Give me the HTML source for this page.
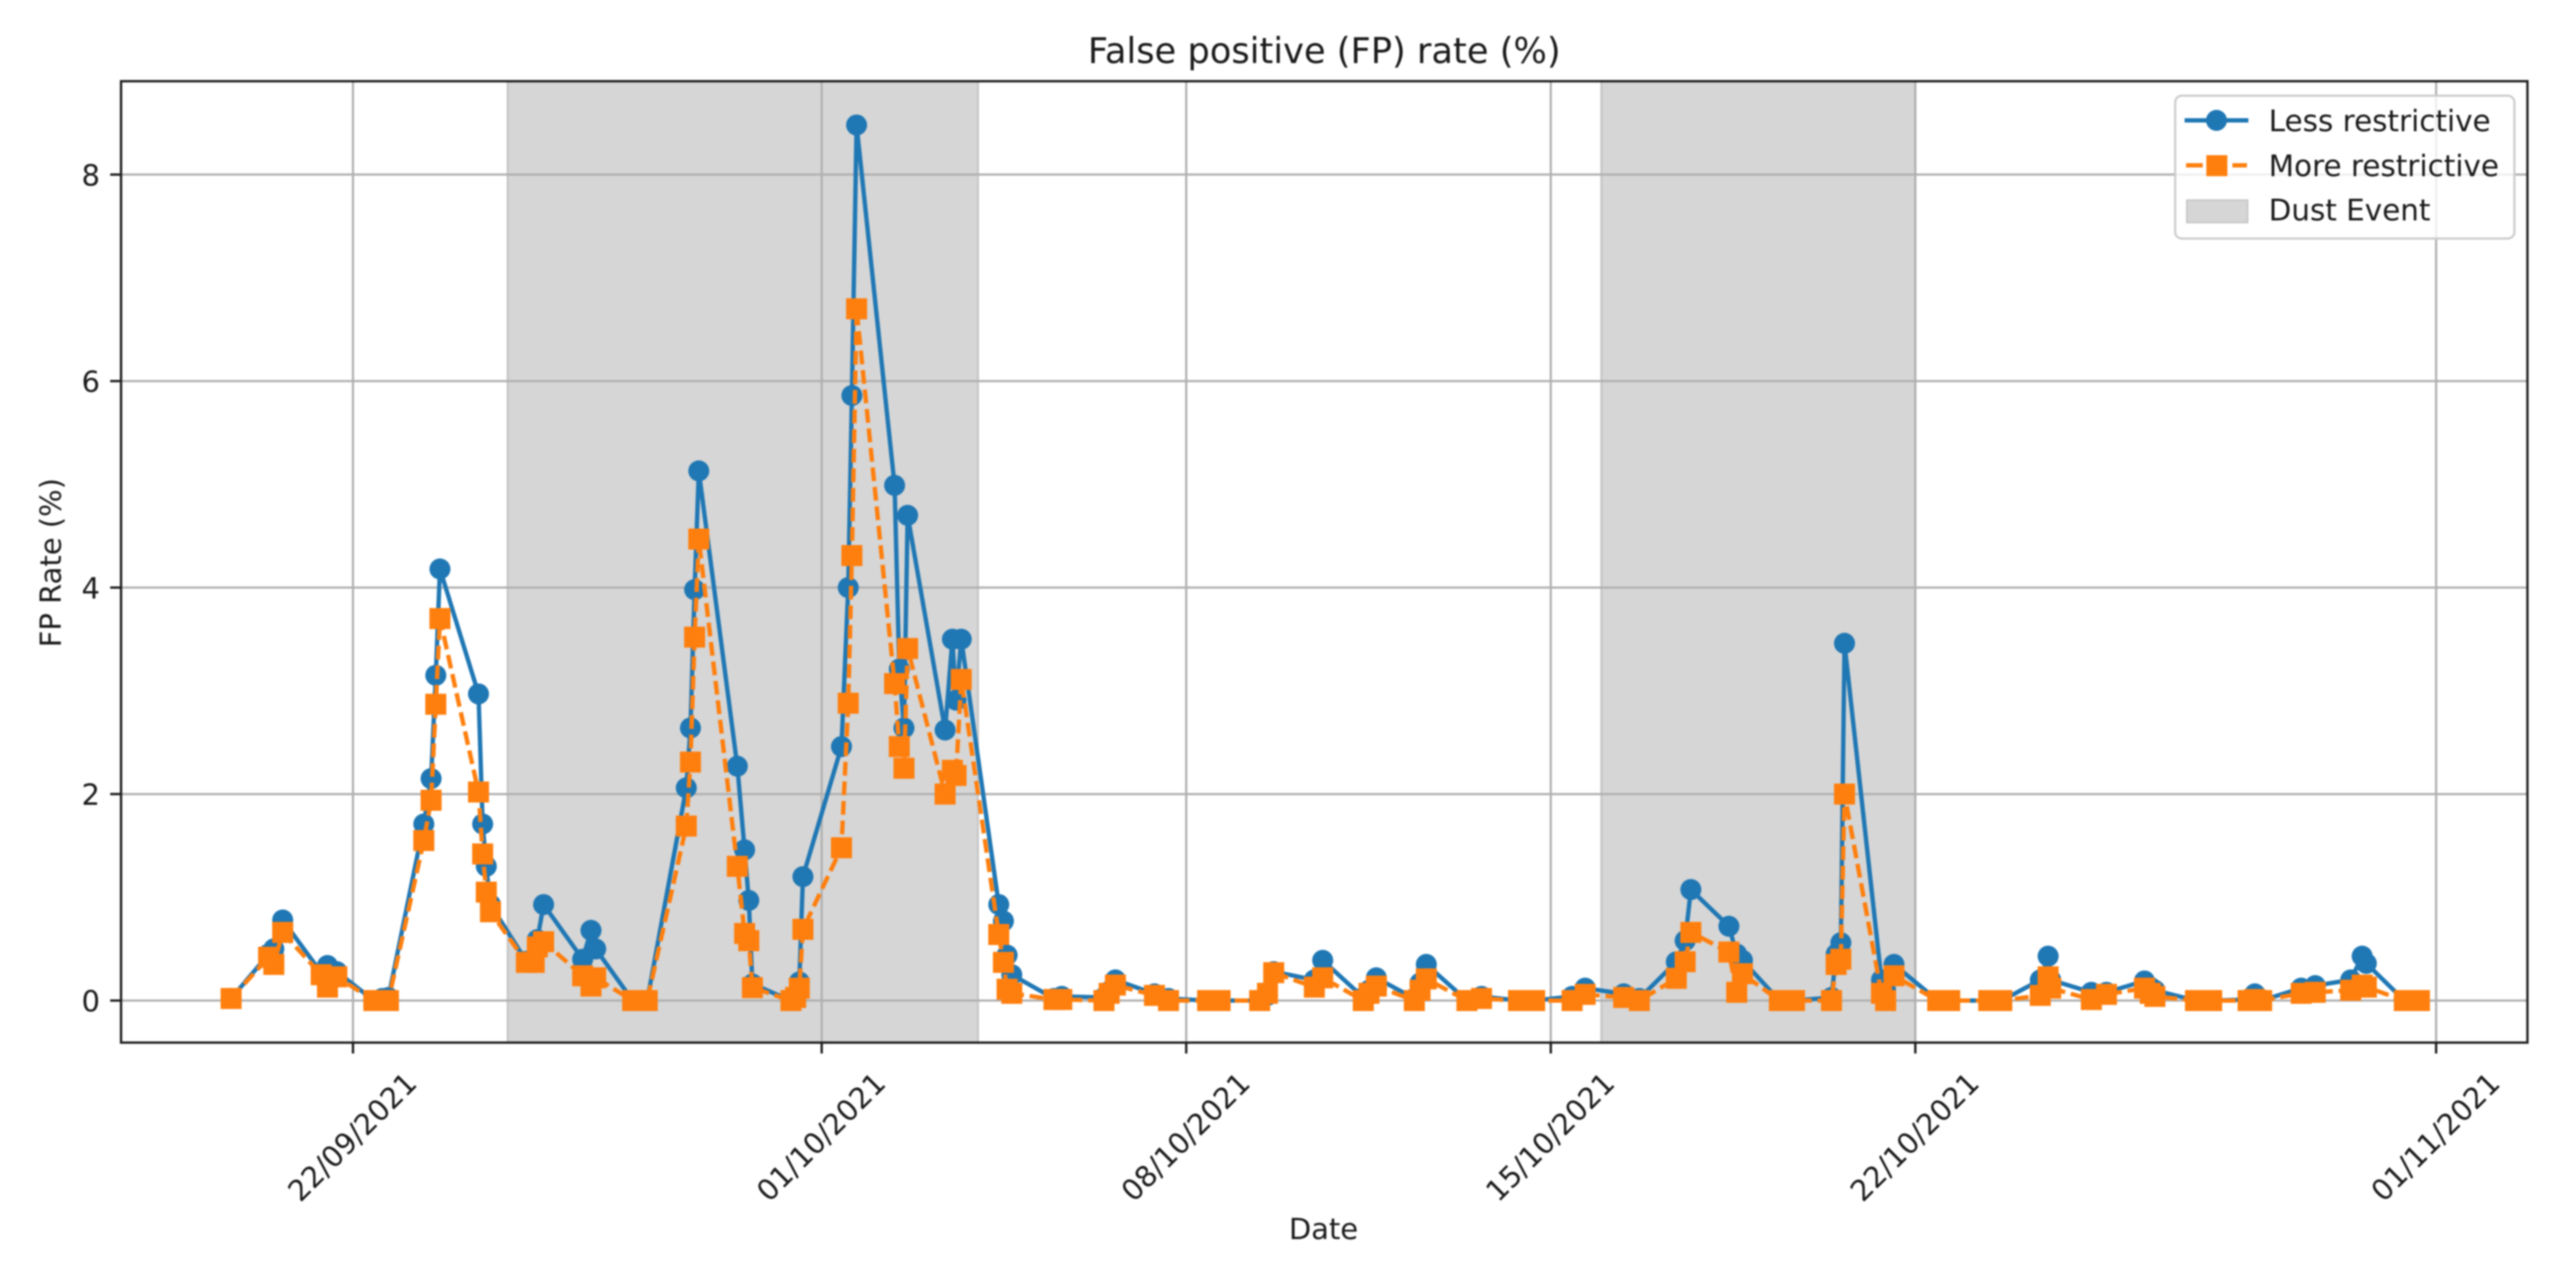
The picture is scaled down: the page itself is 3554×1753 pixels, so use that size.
<!DOCTYPE html>
<html lang="en">
<head>
<meta charset="utf-8">
<title>False positive (FP) rate (%)</title>
<style>
  html, body { margin: 0; padding: 0; background: #ffffff; }
  svg { display: block; filter: blur(1.1px); }
  text { font-family: "DejaVu Sans", "Liberation Sans", sans-serif; fill: #1a1a1a; }
</style>
</head>
<body>
<svg id="chart" xmlns="http://www.w3.org/2000/svg" width="3554" height="1753" viewBox="0 0 3554 1753">
  <rect x="0" y="0" width="3554" height="1753" fill="#ffffff"/>
  <g id="spans"></g>
  <g id="grid"></g>
  <g id="series-a"></g>
  <g id="series-b"></g>
  <rect x="167" y="112" width="3320" height="1326" fill="none" stroke="#1c1c1c" stroke-width="3.2"/>
  <g id="ticks"></g>
  <text x="1827" y="87" font-size="48.6" text-anchor="middle">False positive (FP) rate (%)</text>
  <text x="1826" y="1709" font-size="40" text-anchor="middle">Date</text>
  <text x="0" y="0" font-size="40" text-anchor="middle" transform="translate(84 776) rotate(-90)">FP Rate (%)</text>
  <g>
    <rect x="3001" y="132" width="468" height="197" rx="9" ry="9" fill="#ffffff" fill-opacity="0.8" stroke="#cccccc" stroke-width="3"/>
    <g>
      <line x1="3014" y1="166" x2="3102" y2="166" stroke="#1f77b4" stroke-width="6"/>
      <circle cx="3058" cy="166" r="14.5" fill="#1f77b4"/>
      <text x="3130" y="181" font-size="40.6">Less restrictive</text>
    </g>
    <g>
      <line x1="3016" y1="228" x2="3100" y2="228" stroke="#ff7f0e" stroke-width="6" stroke-dasharray="23 41"/>
      <rect x="3044" y="214" width="29" height="29" fill="#ff7f0e"/>
      <text x="3130" y="243" font-size="40.6">More restrictive</text>
    </g>
    <g>
      <rect x="3017" y="276" width="84" height="31" fill="#d6d6d6" stroke="#c4c4c4" stroke-width="2"/>
      <text x="3130" y="304" font-size="40.6">Dust Event</text>
    </g>
  </g>
</svg>
<script>
// Sample times, in days since 22/09/2021
const days = [-2.34,-1.62,-1.52,-1.35,-0.61,-0.49,-0.31,0.40,0.56,0.68,1.36,1.50,1.59,1.67,2.41,2.49,2.56,2.64,3.33,3.48,3.54,3.66,4.41,4.57,4.66,5.37,5.65,6.40,6.48,6.56,6.64,7.38,7.52,7.60,7.67,8.41,8.50,8.57,8.64,9.38,9.51,9.58,9.67,10.40,10.49,10.58,10.65,11.37,11.51,11.58,11.68,12.40,12.49,12.56,12.65,13.46,13.61,14.42,14.52,14.64,15.39,15.66,16.41,16.65,17.41,17.56,17.68,18.46,18.62,19.40,19.51,19.65,20.38,20.49,20.61,21.39,21.67,22.38,22.69,23.41,23.66,24.40,24.70,25.41,25.58,25.69,26.42,26.57,26.68,27.39,27.68,28.39,28.48,28.57,28.64,29.35,29.43,29.59,30.43,30.66,31.41,31.66,32.40,32.55,32.60,33.38,33.67,34.40,34.51,34.60,35.38,35.69,36.39,36.52,36.65,37.41,37.68,38.36,38.58,38.66,39.39,39.68];
const lessRestrictive = [0.02,0.45,0.50,0.78,0.27,0.34,0.28,0,0.02,0.03,1.71,2.15,3.15,4.18,2.97,1.71,1.30,0.93,0.38,0.40,0.59,0.93,0.40,0.68,0.50,0,0,2.06,2.64,3.98,5.13,2.27,1.46,0.97,0.16,0,0.05,0.18,1.20,2.46,4.00,5.86,8.48,4.99,3.21,2.64,4.70,2.62,3.50,2.91,3.50,0.93,0.77,0.44,0.25,0.02,0.04,0.03,0.09,0.20,0.065,0.02,0,0,0,0.05,0.28,0.20,0.39,0.03,0.10,0.22,0.02,0.17,0.35,0,0.04,0,0,0.04,0.12,0.065,0.02,0.375,0.58,1.075,0.72,0.45,0.39,0,0,0.03,0.45,0.56,3.46,0.20,0.10,0.35,0,0,0,0,0.20,0.43,0.20,0.08,0.08,0.19,0.13,0.10,0,0,0.01,0.065,0,0.12,0.145,0.20,0.43,0.36,0,0];
const moreRestrictive = [0.02,0.42,0.35,0.66,0.25,0.13,0.23,0,0,0,1.55,1.94,2.87,3.70,2.02,1.42,1.05,0.86,0.37,0.37,0.52,0.57,0.24,0.14,0.22,0,0,1.69,2.31,3.52,4.47,1.30,0.65,0.58,0.125,0,0.03,0.12,0.69,1.48,2.88,4.31,6.70,3.07,2.46,2.25,3.41,2.00,2.23,2.18,3.11,0.64,0.37,0.11,0.07,0.01,0.01,0,0.07,0.15,0.05,0,0,0,0,0.07,0.27,0.13,0.22,0,0.07,0.14,0,0.10,0.21,0,0.02,0,0,0,0.06,0.03,0,0.215,0.376,0.66,0.47,0.08,0.26,0,0,0,0.35,0.40,2.00,0.07,0,0.24,0,0,0,0,0.05,0.23,0.12,0.01,0.06,0.12,0.07,0.04,0,0,0,0.01,0,0.07,0.08,0.10,0.15,0.13,0,0];
const dustStartDays = [3, 24];
const dustEndDays = [12, 30];
const xTickDays = [0, 9, 16, 23, 30, 40];
const xTickLabels = ["22/09/2021", "01/10/2021", "08/10/2021", "15/10/2021", "22/10/2021", "01/11/2021"];
const yTickValues = [0, 2, 4, 6, 8];
const yTickLabels = ["0", "2", "4", "6", "8"];

function xScale(d) { return 487 + 71.85 * d; }
function yScale(v) { return 1380 - 142.4 * v; }

const NS = 'http://www.w3.org/2000/svg';
function make(tag, parentId, attrs) {
  const node = document.createElementNS(NS, tag);
  for (const k in attrs) node.setAttribute(k, attrs[k]);
  document.getElementById(parentId).appendChild(node);
  return node;
}

// Dust event spans
dustStartDays.forEach(function (s, i) {
  const el = make('rect', 'spans', { x: xScale(s) - 2, y: 112, width: xScale(dustEndDays[i]) - xScale(s) + 2, height: 1326, fill: '#d6d6d6', stroke: '#c6c6c6', 'stroke-width': 3 });
  
  
});

// Grid lines and ticks
xTickDays.forEach(function (d, i) {
  const x = xScale(d);
  const g = make('line', 'grid', { x1: x, y1: 112, x2: x, y2: 1438, stroke: '#b0b0b0', 'stroke-width': 3 });
  
  
  const t = make('line', 'ticks', { x1: x, y1: 1438, x2: x, y2: 1453, stroke: '#1c1c1c', 'stroke-width': 3.2 });
  
  
  const lab = make('text', 'ticks', { 'font-size': 40, 'text-anchor': 'middle', transform: 'translate(' + (x - 1) + ' 1568) rotate(-45) translate(0 14)' });
  
  
  lab.textContent = xTickLabels[i];
});
yTickValues.forEach(function (v, i) {
  const y = yScale(v);
  const g = make('line', 'grid', { x1: 167, y1: y, x2: 3487, y2: y, stroke: '#b0b0b0', 'stroke-width': 3 });
  
  
  const t = make('line', 'ticks', { x1: 152, y1: y, x2: 167, y2: y, stroke: '#1c1c1c', 'stroke-width': 3.2 });
  
  
  const lab = make('text', 'ticks', { x: 138, y: y + 15, 'font-size': 40, 'text-anchor': 'end' });
  
  
  lab.textContent = yTickLabels[i];
});

function pointsOf(values) {
  return values.map(function (v, i) { return xScale(days[i]) + ',' + yScale(v); }).join(' ');
}

// Less restrictive series
const lineA = make('polyline', 'series-a', { points: pointsOf(lessRestrictive), fill: 'none', stroke: '#1f77b4', 'stroke-width': 6, 'stroke-linejoin': 'round' });


lessRestrictive.forEach(function (v, i) {
  const c = make('circle', 'series-a', { cx: xScale(days[i]), cy: yScale(v), r: 14.5, fill: '#1f77b4' });
  
  
});

// More restrictive series
const lineB = make('polyline', 'series-b', { points: pointsOf(moreRestrictive), fill: 'none', stroke: '#ff7f0e', 'stroke-width': 6, 'stroke-dasharray': '19 8', 'stroke-linejoin': 'round' });


moreRestrictive.forEach(function (v, i) {
  const r = make('rect', 'series-b', { x: xScale(days[i]) - 14.5, y: yScale(v) - 14.5, width: 29, height: 29, fill: '#ff7f0e' });
  
  
});
</script>
</body>
</html>
